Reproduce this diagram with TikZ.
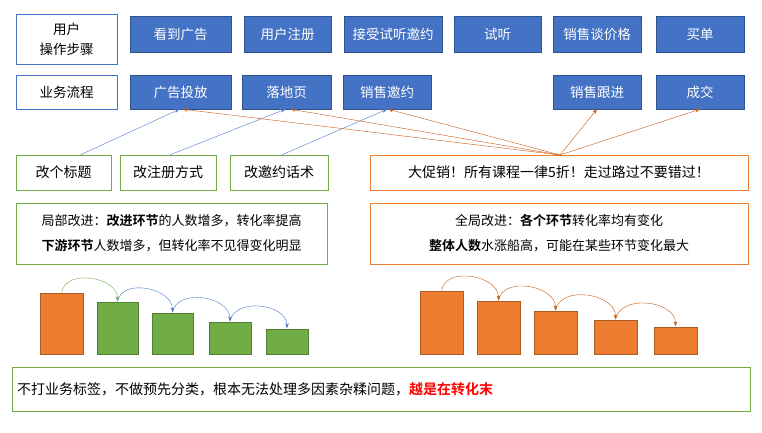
\documentclass[tikz,border=0pt]{standalone}
\usepackage{fontspec}
\setmainfont{Noto Sans CJK SC}
\newfontfamily\cjkb{Noto Sans CJK SC Bold}
\usetikzlibrary{arrows.meta}
\definecolor{bfill}{HTML}{4472C4}
\definecolor{bline}{HTML}{2F528F}
\definecolor{gfill}{HTML}{70AD47}
\definecolor{gline}{HTML}{507E32}
\definecolor{ofill}{HTML}{ED7D31}
\definecolor{oline}{HTML}{AE5A21}
\definecolor{oarr}{HTML}{C55A11}
\definecolor{barr}{HTML}{4A7BD0}
\begin{document}
\begin{tikzpicture}[x=1pt,y=-1pt,
  bx/.style={draw=bline,fill=bfill,text=white,font=\fontsize{13.5}{16}\selectfont,inner sep=0pt},
  wb/.style={draw=bfill,fill=white,font=\fontsize{13.5}{20}\selectfont,inner sep=0pt,align=center},
  gb/.style={draw=gfill,fill=white,font=\fontsize{14}{16}\selectfont,inner sep=0pt,align=center},
  ob/.style={draw=ofill,fill=white,font=\fontsize{14}{16}\selectfont,inner sep=0pt,align=center},
  gb2/.style={draw=gfill,fill=white,font=\fontsize{13}{16}\selectfont,inner sep=0pt,align=center},
  ob2/.style={draw=ofill,fill=white,font=\fontsize{13}{16}\selectfont,inner sep=0pt,align=center},
  garr/.style={draw=barr,-{Stealth[length=5pt,width=3.5pt]}},
  orr/.style={draw=oarr,-{Stealth[length=5pt,width=3.5pt]}},
  gbar/.style={draw=gline,fill=gfill},
  obar/.style={draw=oline,fill=ofill}]
\useasboundingbox (0,0) rectangle (762,433);
\fill[white] (0,0) rectangle (762,433);
\newcommand\bxat[6]{\node[#1,minimum width=#4-#3,minimum height=#6-#5] (#2) at ({(#3+#4)/2},{(#5+#6)/2})}
% row 1
\bxat{wb}{u0}{16}{117}{14}{64}{用户\\操作步骤};
\bxat{bx}{u1}{130}{231}{16}{52}{看到广告};
\bxat{bx}{u2}{244}{331}{16}{52}{用户注册};
\bxat{bx}{u3}{344}{442}{16}{52}{接受试听邀约};
\bxat{bx}{u4}{454}{541}{16}{52}{试听};
\bxat{bx}{u5}{553}{641}{16}{52}{销售谈价格};
\bxat{bx}{u6}{656}{744}{16}{52}{买单};
% row 2
\bxat{wb}{p0}{16}{117}{75}{109}{业务流程};
\bxat{bx}{p1}{130}{231}{75}{109}{广告投放};
\bxat{bx}{p2}{242}{331}{75}{109}{落地页};
\bxat{bx}{p3}{343}{431}{75}{109}{销售邀约};
\bxat{bx}{p4}{553}{641}{75}{109}{销售跟进};
\bxat{bx}{p5}{656}{744}{75}{109}{成交};
% change boxes
\bxat{gb}{g1}{16}{111}{155}{190}{改个标题};
\bxat{gb}{g2}{120}{216}{155}{190}{改注册方式};
\bxat{gb}{g3}{230}{328}{155}{190}{改邀约话术};
\bxat{ob}{o1}{370}{748}{155}{190}{大促销！所有课程一律5折！走过路过不要错过！};
\bxat{gb2}{g4}{16}{327}{203}{264}{局部改进：{\cjkb 改进环节}的人数增多，转化率提高\\[9pt]{\cjkb 下游环节}人数增多，但转化率不见得变化明显};
\bxat{ob2}{o2}{370}{748}{203}{264}{全局改进：{\cjkb 各个环节}转化率均有变化\\[9pt]{\cjkb 整体人数}水涨船高，可能在某些环节变化最大};
% arrows
\draw[garr] ([xshift=17pt]g1.north) -- ([xshift=-1pt]p1.south);
\draw[garr] ([xshift=2pt]g2.north) -- ([xshift=-1pt]p2.south);
\draw[garr] ([xshift=3pt]g3.north) -- ([xshift=0pt]p3.south);
\coordinate (oc) at (560,155);
\foreach \t/\dx in {p1/2,p2/4,p3/1}{\draw[orr] (oc) -- ([xshift=\dx pt]\t.south);}
\draw[orr] (oc) -- (p4.south);
\draw[orr] (oc) -- (p5.south);
% bars left
\draw[obar] (40,293) rectangle (83,354);
\node[inner sep=0pt] (l1) at (61.5,293) {};
\draw[gbar] (97,302) rectangle (138,354); \node[inner sep=0pt] (l2) at (117.5,302) {};
\draw[gbar] (152,313) rectangle (193,354); \node[inner sep=0pt] (l3) at (172.5,313) {};
\draw[gbar] (209,322) rectangle (251,354); \node[inner sep=0pt] (l4) at (230,322) {};
\draw[gbar] (266,329) rectangle (308,354); \node[inner sep=0pt] (l5) at (287,329) {};
\draw[draw=gfill,-{Stealth[length=5pt,width=3.5pt]}] (l1) to[out=80,in=90,looseness=1.1] (l2);
\draw[garr] (l2) to[out=80,in=90,looseness=1.1] (l3);
\draw[garr] (l3) to[out=80,in=90,looseness=1.1] (l4);
\draw[garr] (l4) to[out=80,in=90,looseness=1.1] (l5);
% bars right
\draw[obar] (420,291) rectangle (463,354); \node[inner sep=0pt] (r1) at (441.5,291) {};
\draw[obar] (477,301) rectangle (520,354); \node[inner sep=0pt] (r2) at (498.5,301) {};
\draw[obar] (534,311) rectangle (577,354); \node[inner sep=0pt] (r3) at (555.5,311) {};
\draw[obar] (594,320) rectangle (637,354); \node[inner sep=0pt] (r4) at (615.5,320) {};
\draw[obar] (654,327) rectangle (697,354); \node[inner sep=0pt] (r5) at (675.5,327) {};
\draw[orr] (r1) to[out=80,in=90,looseness=1.1] (r2);
\draw[orr] (r2) to[out=80,in=90,looseness=1.1] (r3);
\draw[orr] (r3) to[out=80,in=90,looseness=1.1] (r4);
\draw[orr] (r4) to[out=80,in=90,looseness=1.1] (r5);
% bottom
\bxat{gb}{bt}{12}{750}{367}{411}{};
\node[anchor=west,inner sep=0pt,font=\fontsize{14}{16}\selectfont] (btx) at (17,389) {不打业务标签，不做预先分类，根本无法处理多因素杂糅问题，{\cjkb\color{red}越是在转化末}};
\end{tikzpicture}
\end{document}
